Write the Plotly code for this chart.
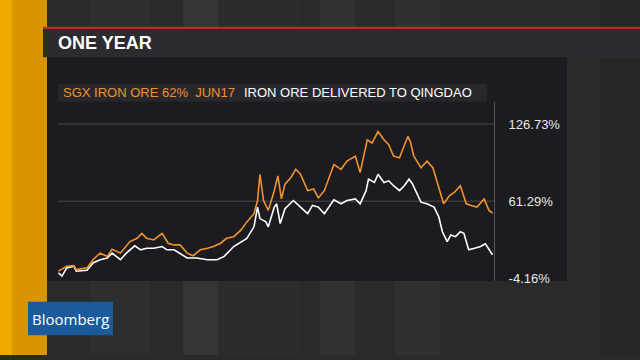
import pandas as pd
import plotly.graph_objects as go

# ---------------- data ----------------
start_date = "2016-05-23"
title_text = "ONE YEAR"
sgx_name = "SGX IRON ORE 62%  JUN17"
qingdao_name = "IRON ORE DELIVERED TO QINGDAO"

sgx_days = [0, 7, 13, 15, 24, 29, 35, 41, 45, 52, 60, 66, 70, 74, 80, 87, 92, 97, 102, 108,
            113, 119, 125, 130, 136, 141, 147, 153, 158, 164, 167, 169, 172, 176, 181, 184, 187, 190, 195, 199,
            203, 209, 214, 218, 223, 228, 231, 237, 242, 249, 253, 259, 263, 268, 273, 277, 281, 286, 290, 293,
            295, 298, 304, 309, 314, 318, 323, 328, 332, 337, 342, 346, 351, 357, 361, 364]
sgx_pct = [1.98, 6.15, 6.71, 3.37, 4.76, 11.72, 17.29, 14.51, 20.63, 17.29,
           27.04, 29.82, 34.00, 29.82, 28.43, 34.00, 25.65, 24.25, 24.25, 17.29,
           15.06, 20.08, 21.47, 22.86, 25.65, 29.82, 31.22, 36.78, 43.75, 50.71,
           61.85, 84.12, 61.85, 53.49, 70.20, 82.73, 63.24, 75.77, 81.34, 88.30,
           84.12, 70.20, 71.59, 64.07, 70.20, 84.12, 92.48, 88.30, 95.26, 99.44,
           85.52, 113.36, 110.58, 120.33, 113.36, 109.19, 99.44, 98.05, 109.19, 116.15,
           111.97, 99.44, 89.69, 95.26, 89.69, 75.77, 59.06, 66.02, 68.81, 74.38,
           59.06, 57.67, 56.28, 63.24, 53.49, 51.27]

qingdao_days = [0, 3, 7, 13, 15, 24, 29, 35, 41, 45, 52, 57, 64, 69, 74, 80, 87, 91, 97, 105,
                108, 116, 125, 133, 139, 147, 153, 158, 164, 167, 169, 174, 176, 181, 183, 186, 190, 197, 203, 209,
                213, 218, 223, 228, 231, 237, 242, 249, 253, 258, 260, 265, 268, 273, 277, 281, 286, 290, 294, 297,
                301, 304, 309, 315, 319, 322, 326, 329, 333, 337, 340, 344, 349, 354, 358, 361, 364]
qingdao_pct = [0.58, -2.20, 4.76, 6.15, 1.98, 2.81, 8.94, 11.72, 13.12, 17.29,
               11.72, 17.29, 23.42, 20.08, 21.47, 21.47, 22.86, 20.08, 20.08, 14.51,
               13.12, 13.12, 11.72, 11.72, 14.51, 22.86, 27.04, 29.82, 39.57, 56.28,
               46.53, 43.75, 39.57, 56.28, 59.06, 42.35, 54.89, 61.85, 56.28, 50.71,
               57.67, 56.28, 50.71, 57.67, 62.40, 59.06, 61.85, 63.24, 59.06, 70.20,
               79.95, 77.16, 84.12, 77.16, 78.56, 74.38, 70.20, 74.38, 79.95, 75.77,
               67.42, 60.45, 59.06, 56.28, 47.92, 35.39, 27.04, 32.61, 31.22, 35.39,
               34.00, 20.08, 21.47, 22.86, 25.09, 20.08, 15.90]

tick_vals = [126.73, 61.29, -4.16]
tick_text = ["126.73%", "61.29%", "-4.16%"]
grid_vals = [126.73, 61.29]

# ---------------- styling ----------------
W, H = 640, 360
BG = "#2a2a2b"
PANEL = "#1c1c20"
TITLE_BAR = "#2c2c30"
ORANGE = "#f0922e"
WHITE = "#ffffff"


def px_x(x):
    return x / W


def px_y(y):
    return 1 - y / H


t0 = pd.Timestamp(start_date)
sgx_dates = [t0 + pd.Timedelta(days=d) for d in sgx_days]
qd_dates = [t0 + pd.Timedelta(days=d) for d in qingdao_days]

fig = go.Figure()
fig.add_trace(go.Scatter(x=qd_dates, y=qingdao_pct, mode="lines", name=qingdao_name,
                         line=dict(color=WHITE, width=1.6), hoverinfo="skip"))
fig.add_trace(go.Scatter(x=sgx_dates, y=sgx_pct, mode="lines", name=sgx_name,
                         line=dict(color=ORANGE, width=1.6), hoverinfo="skip"))

shapes = []


def rect(x0, y0, x1, y1, color, layer="below"):
    shapes.append(dict(type="rect", xref="paper", yref="paper",
                       x0=px_x(x0), x1=px_x(x1), y0=px_y(y1), y1=px_y(y0),
                       fillcolor=color, line=dict(width=0), layer=layer))


# background stripes
rect(0, 0, 640, 360, BG)
for x0, x1, c in [(90, 150, "#2e2e2f"), (183, 218, "#353536"), (218, 300, "#2c2c2d"),
                  (320, 355, "#323233"), (395, 440, "#303031"), (600, 640, "#262627")]:
    rect(x0, 0, x1, 360, c)
# yellow side bar
rect(0, 0, 47, 360, "#d99400")
rect(0, 0, 12, 360, "#eea800")
# red rule and title bar
rect(43, 27, 640, 29.5, "#c1272d")
rect(43, 29.5, 640, 58, TITLE_BAR)
# chart panel
rect(47, 58, 567, 285, PANEL)
# legend strip
rect(58, 85, 487, 103, "#28282c")
# Bloomberg badge
rect(28, 306, 113, 340, "#1b5a9b")

# gridlines at data values
for g in grid_vals:
    shapes.append(dict(type="line", xref="x domain", yref="y", x0=0, x1=1, y0=g, y1=g,
                       line=dict(color="#4a4a4e", width=1), layer="below"))

annotations = [
    dict(text="<b>" + title_text + "</b>", xref="paper", yref="paper", x=px_x(56), y=px_y(44),
         xanchor="left", yanchor="middle", showarrow=False,
         font=dict(family="Liberation Sans", size=18, color=WHITE)),
    dict(text=sgx_name, xref="paper", yref="paper", x=px_x(61), y=px_y(94),
         xanchor="left", yanchor="middle", showarrow=False,
         font=dict(family="Liberation Sans", size=13, color=ORANGE)),
    dict(text=qingdao_name, xref="paper", yref="paper", x=px_x(242), y=px_y(94),
         xanchor="left", yanchor="middle", showarrow=False,
         font=dict(family="Liberation Sans", size=13, color=WHITE)),
    dict(text="Bloomberg", xref="paper", yref="paper", x=px_x(70.5), y=px_y(323),
         xanchor="center", yanchor="middle", showarrow=False,
         font=dict(family="Open Sans, Liberation Sans", size=15, color=WHITE)),
]

x_start = t0 - pd.Timedelta(hours=8)
x_end = t0 + pd.Timedelta(days=max(sgx_days[-1], qingdao_days[-1])) + pd.Timedelta(hours=30)

fig.update_layout(
    width=W, height=H,
    margin=dict(l=0, r=0, t=0, b=0),
    paper_bgcolor=BG, plot_bgcolor="rgba(0,0,0,0)",
    showlegend=False,
    shapes=shapes,
    annotations=annotations,
    xaxis=dict(domain=[px_x(58), px_x(494)], range=[x_start, x_end], type="date",
               visible=False, showgrid=False, zeroline=False),
    yaxis=dict(domain=[px_y(285), px_y(103)], range=[-6.38, 145.7], side="right",
               tickvals=tick_vals, ticktext=tick_text, showgrid=False, zeroline=False,
               showline=True, linecolor="#58585c", linewidth=1, ticks="",
               ticklabelstandoff=11,
               tickfont=dict(family="Liberation Sans", size=13, color="#e8e8e8")),
)

fig.write_html("out.html", config={"displayModeBar": False},
               post_script="document.body.style.margin='0';document.body.style.overflow='hidden';")
